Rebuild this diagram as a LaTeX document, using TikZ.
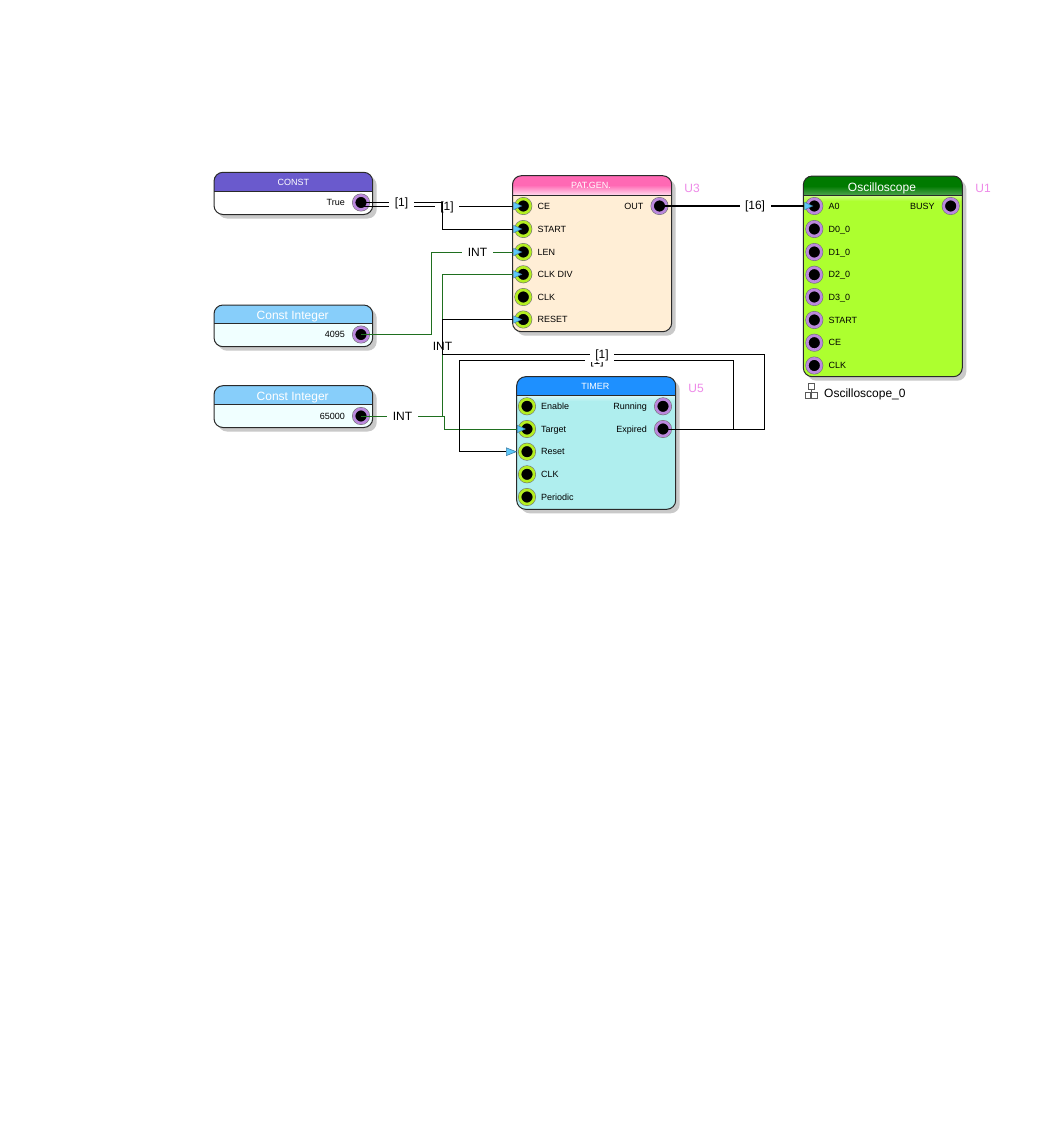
\documentclass[tikz,border=0pt]{standalone}
\usepackage{fontspec}
\setmainfont{Liberation Sans}
\usetikzlibrary{arrows.meta}
\definecolor{shadowgray}{HTML}{C9C9C9}
\definecolor{edgecol}{HTML}{2A2A2A}
\definecolor{ringin}{HTML}{B4EE22}
\definecolor{ringout}{HTML}{BB88DD}
\definecolor{tipblue}{HTML}{5CC8FA}
\definecolor{tipedge}{HTML}{3F7FA8}
\definecolor{greenwire}{HTML}{1F6F1F}
\definecolor{refname}{HTML}{EE8AE8}
\definecolor{constpurple}{HTML}{6A5ACD}
\definecolor{skyhead}{HTML}{87CEFA}
\definecolor{azurebody}{HTML}{F0FFFF}
\definecolor{pinkhead}{HTML}{FF69B4}
\definecolor{peachbody}{HTML}{FFEED6}
\definecolor{bluehead}{HTML}{1E90FF}
\definecolor{aquabody}{HTML}{AFEEEE}
\definecolor{greenhead}{HTML}{007A00}
\definecolor{limebody}{HTML}{ADFF2F}
\tikzset{
  blockbody/.style={inner sep=0pt,outer sep=0pt,rounded corners=9pt},
  blockedge/.style={draw=edgecol,line width=1pt,rounded corners=9pt},
  port/.style={circle,inner sep=0pt,outer sep=0pt,minimum size=14pt,fill=black,draw=#1,line width=2.7pt,
    preaction={draw=black!55,line width=3.9pt}},
  portlabel/.style={inner sep=0pt,font=\fontsize{9}{10}\selectfont,text=black},
  titletext/.style={inner sep=0pt,text=white,anchor=base},
  wirelabel/.style={fill=white,inner xsep=5.5pt,inner ysep=1pt,font=\fontsize{12}{13}\selectfont,text=black},
  refmark/.style={inner sep=0pt,text=refname,font=\fontsize{12}{13}\selectfont},
  bitwire/.style={draw=black,line width=1pt},
  intwire/.style={draw=greenwire,line width=1pt},
  tipped/.style={shorten >=1pt,-{Triangle[length=9pt,width=8pt,color=tipedge,fill=tipblue,line width=.5pt]}},
  bigtipped/.style={-{Triangle[length=11pt,width=8.5pt,color=tipedge,fill=tipblue,line width=.6pt]}},
}
% name,x1,y1,x2,y2,ydiv,head,body,extra
\newcommand\Block[9]{%
  \fill[shadowgray,rounded corners=9pt] ({#2+4},{#3+4}) rectangle ({#4+4},{#5+4});
  \node[blockbody,fill=#8,minimum width={#4-#2},minimum height={#5-#3}] (#1) at ({(#2+#4)/2},{(#3+#5)/2}) {};
  \fill[#7] (#2,#6) [rounded corners=9pt] -- (#2,#3) -- (#4,#3) [sharp corners] -- (#4,#6) -- cycle;
  #9
  \draw[draw=edgecol,line width=1pt] (#2,#6) -- (#4,#6);
  \draw[blockedge] (#2,#3) rectangle (#4,#5);
}
\newcommand\Fade[6]{\shade[top color=#5,bottom color=#6] (#1,#2) rectangle (#3,#4);}
% name,x,y,ring,label
\newcommand\InPort[5]{%
  \node[port=#4] (#1) at (#2,#3) {};
  \node[portlabel,anchor=base west] (#1txt) at ({#2+14},{#3+3}) {#5};
}
\newcommand\OutPort[5]{%
  \node[port=#4] (#1) at (#2,#3) {};
  \node[portlabel,anchor=base east] (#1txt) at ({#2-16},{#3+3}) {#5};
}
\begin{document}
\begin{tikzpicture}[x=1pt,y=-1pt]
\useasboundingbox[fill=white] (0,0) rectangle (1063,1122);

% ---------- blocks
\Block{const}{214}{172.3}{372.7}{214.5}{191.5}{constpurple}{white}{}
\node[titletext,font=\fontsize{9}{10}\selectfont] (consttitle) at (293.3,185) {CONST};
\Block{ci}{214}{305}{372.7}{346.7}{323.7}{skyhead}{azurebody}{}
\node[titletext,font=\fontsize{12}{13}\selectfont] (cititle) at (292.7,319.3) {Const Integer};
\Block{cj}{214}{385.7}{372.7}{427.5}{404.3}{skyhead}{azurebody}{}
\node[titletext,font=\fontsize{12}{13}\selectfont] (cjtitle) at (292.7,400.3) {Const Integer};

\Block{u3}{512.5}{175.7}{671.7}{331.7}{195}{pinkhead}{peachbody}{%
  \Fade{512.8}{185}{671.4}{195}{pinkhead}{pinkhead!25!white}}
\node[titletext,font=\fontsize{9}{10}\selectfont] (u3title) at (591,188) {PAT.GEN.};
\node[refmark] (u3ref) at (692,188.5) {U3};

\Block{u5}{516.7}{376.7}{675.7}{509.3}{395}{bluehead}{aquabody}{%
  \Fade{517}{395.5}{675.4}{401}{aquabody!45!white}{aquabody}}
\node[titletext,font=\fontsize{9}{10}\selectfont] (u5title) at (595.3,389) {TIMER};
\node[refmark] (u5ref) at (696,388.5) {U5};

\Block{u1}{803.3}{176}{962.3}{376.7}{195}{greenhead}{limebody}{%
  \Fade{803.6}{186}{962}{195}{greenhead}{greenhead!70!white}
  \Fade{803.6}{195.5}{962}{201}{limebody!60!white}{limebody}}
\node[titletext,font=\fontsize{12}{13}\selectfont] (u1title) at (882,191.3) {Oscilloscope};
\node[refmark] (u1ref) at (983,188.5) {U1};

% instance caption with its network icon
\draw[black!65,line width=.8pt,fill=white] (808,383.5) rectangle (814,389);
\draw[black!65,line width=.8pt,fill=white] (805,392.5) rectangle (810.5,398);
\draw[black!65,line width=.8pt,fill=white] (811.8,392.5) rectangle (817.3,398);
\draw[black!65,line width=.8pt] (811,389) -- (811,392.5);
\node[inner sep=0pt,anchor=base west,font=\fontsize{12}{13}\selectfont] (u1inst) at (824,397) {Oscilloscope\_0};

% ---------- ports
\OutPort{pTrue}{361}{202.5}{ringout}{True}
\OutPort{pFourk}{361}{334.5}{ringout}{4095}
\OutPort{pSixty}{361}{416}{ringout}{65000}

\InPort{pCE}{523.3}{206}{ringin}{CE}
\InPort{pStart}{523.3}{229}{ringin}{START}
\InPort{pLen}{523.3}{252}{ringin}{LEN}
\InPort{pDiv}{523.3}{274.3}{ringin}{CLK DIV}
\InPort{pClk}{523.3}{297}{ringin}{CLK}
\InPort{pRst}{523.3}{319.5}{ringin}{RESET}
\OutPort{pOut}{659.5}{206}{ringout}{OUT}

\InPort{tEn}{527}{406.3}{ringin}{Enable}
\InPort{tTar}{527}{429}{ringin}{Target}
\InPort{tRes}{527}{451.7}{ringin}{Reset}
\InPort{tClk}{527}{474.3}{ringin}{CLK}
\InPort{tPer}{527}{497}{ringin}{Periodic}
\OutPort{tRun}{663}{406.3}{ringout}{Running}
\OutPort{tExp}{663}{429}{ringout}{Expired}

\InPort{oA}{814.3}{206}{ringout}{A0}
\InPort{oD0}{814.3}{229}{ringout}{D0\_0}
\InPort{oD1}{814.3}{252}{ringout}{D1\_0}
\InPort{oD2}{814.3}{274.7}{ringout}{D2\_0}
\InPort{oD3}{814.3}{297}{ringout}{D3\_0}
\InPort{oSt}{814.3}{320}{ringout}{START}
\InPort{oCE}{814.3}{342.7}{ringout}{CE}
\InPort{oClk}{814.3}{365.5}{ringout}{CLK}
\OutPort{oBusy}{950.7}{206}{ringout}{BUSY}

% ---------- connectors
% True -> CE
\draw[bitwire,tipped] ([yshift=-3.5pt]pTrue.center) -- (pCE.center);
\node[wirelabel] (lblCE) at (447,207) {[1]};
% True -> START
\draw[bitwire,tipped] (pTrue.center) -- (442.5,202.5) -- (442.5,229) -- (pStart.center);
\node[wirelabel] (lblTrue) at (401.5,203.5) {[1]};
% 4095 -> LEN
\draw[intwire,tipped] (pFourk.center) -- (431.5,334.5) -- (431.5,252) -- (pLen.center);
\node[wirelabel] (lblLen) at (477.5,252.5) {INT};
% 65000 -> CLK DIV
\draw[intwire,tipped] (pSixty.center) -- (442.5,416) -- (442.5,274.3) -- (pDiv.center);
\node[wirelabel] (lblDiv) at (442.5,346) {INT};
% 65000 -> Target
\draw[intwire,tipped] (pSixty.center) -- (444.7,416) -- (444.7,429) -- (tTar.center);
\node[wirelabel] (lblSixty) at (402.5,416.5) {INT};
% Expired -> Reset (timer)
\draw[bitwire,bigtipped] (tExp.center) -- (733.5,429) -- (733.5,360) -- (459.7,360) -- (459.7,451.7) -- ([xshift=-10pt]tRes.center);
\node[wirelabel] (lblRes) at (597,361.5) {[1]};
% Expired -> RESET (pattern generator)
\draw[bitwire,tipped] (tExp.center) -- (764,429) -- (764,354) -- (442.5,354) -- (442.5,319.5) -- (pRst.center);
\draw[bitwire] (442.5,338) -- (442.5,354);
\node[wirelabel] (lblRst) at (602,355) {[1]};
% OUT -> A0
\draw[draw=black,line width=1.6pt,tipped] (pOut.center) -- (oA.center);
\node[wirelabel] (lblOut) at (755,206.5) {[16]};
\end{tikzpicture}
\end{document}
